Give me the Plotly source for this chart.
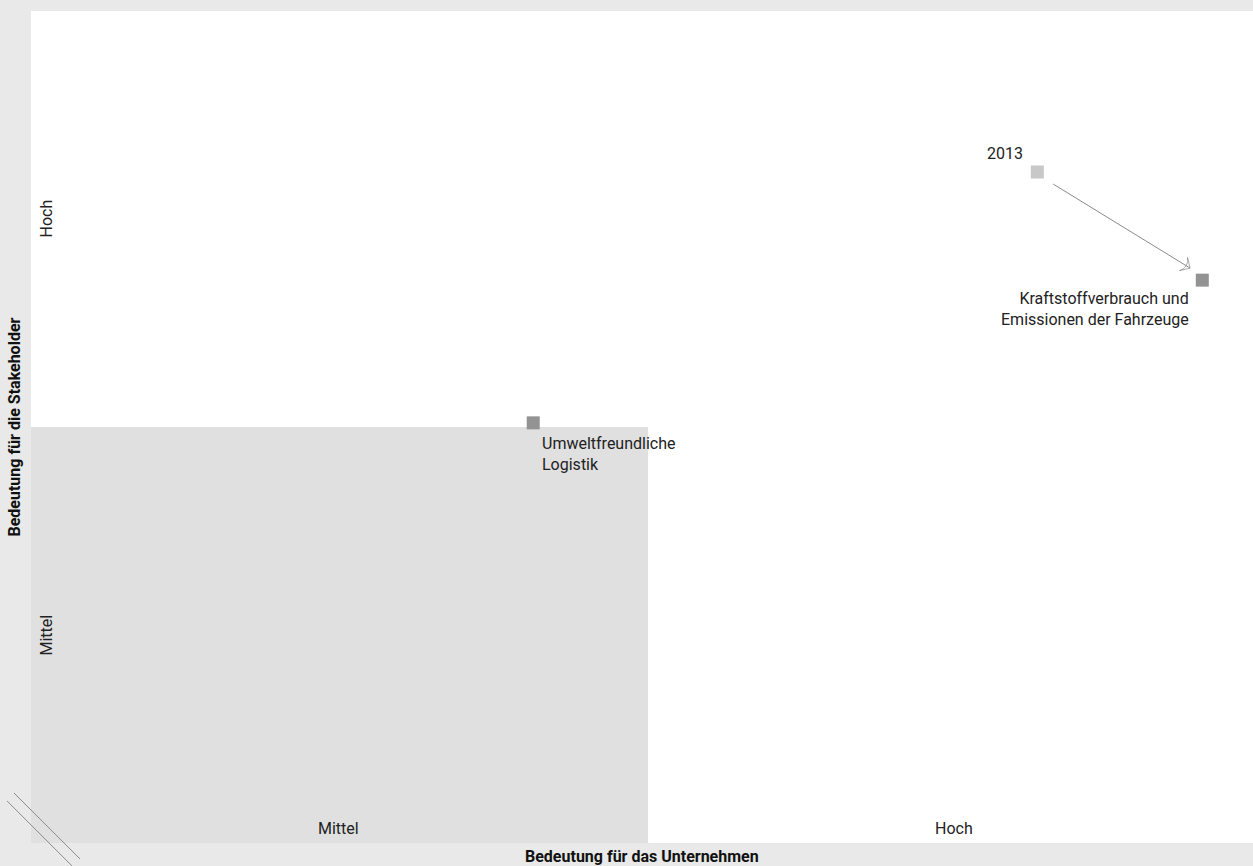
import plotly.graph_objects as go

# Data
topics = ["Umweltfreundliche<br>Logistik", "Kraftstoffverbrauch und<br>Emissionen der Fahrzeuge"]
x_company = [0.822, 1.917]
y_stake = [1.010, 1.353]
prev_label = "2013"
x_prev = [1.647]
y_prev = [1.613]
arrow_x = [1.673, 1.897]
arrow_y = [1.584, 1.382]
x_ticks = [0.503, 1.51]
x_ticklabels = ["Mittel", "Hoch"]
y_ticks = [0.5, 1.5]
y_ticklabels = ["Mittel", "Hoch"]
x_title = "Bedeutung für das Unternehmen"
y_title = "Bedeutung für die Stakeholder"

FONT = "Roboto, Liberation Sans, sans-serif"
BG = "#e8e9e8"
fig = go.Figure()

# grey quadrant
fig.add_shape(type="rect", x0=0, x1=1.01, y0=0, y1=1, xref="x", yref="y",
              fillcolor="#dfe0df", line_width=0, layer="below")

# arrow
fig.add_trace(go.Scatter(x=arrow_x, y=arrow_y, mode="lines+markers",
                         line=dict(color="#8a8a8a", width=1),
                         marker=dict(symbol=["circle", "arrow-wide-open"], size=[0, 11],
                                     angleref="previous", color="#8a8a8a",
                                     line=dict(color="#8a8a8a", width=1)),
                         hoverinfo="skip", showlegend=False))

fig.add_trace(go.Scatter(x=x_prev, y=y_prev, mode="markers",
                         marker=dict(symbol="square", size=13, color="#c8c8c8"),
                         showlegend=False))
fig.add_trace(go.Scatter(x=x_company, y=y_stake, mode="markers",
                         marker=dict(symbol="square", size=13, color="#939393"),
                         showlegend=False))

# labels
fig.add_annotation(x=x_company[0], y=y_stake[0], text=topics[0], showarrow=False,
                   xanchor="left", yanchor="top", align="left", xshift=7, yshift=-9,
                   font=dict(family=FONT, size=16, color="#222"))
fig.add_annotation(x=x_company[1], y=y_stake[1], text=topics[1], showarrow=False,
                   xanchor="right", yanchor="top", align="right", xshift=-11, yshift=-7,
                   font=dict(family=FONT, size=16, color="#222"))
fig.add_annotation(x=x_prev[0], y=y_prev[0], text=prev_label, showarrow=False,
                   xanchor="right", yanchor="bottom", xshift=-12, yshift=7,
                   font=dict(family=FONT, size=16, color="#222"))

for xv, lab in zip(x_ticks, x_ticklabels):
    fig.add_annotation(x=xv, y=0, text=lab, showarrow=False, yanchor="bottom", yshift=3,
                       font=dict(family=FONT, size=16, color="#222"))
for yv, lab in zip(y_ticks, y_ticklabels):
    fig.add_annotation(x=0, y=yv, text=lab, showarrow=False, xanchor="left", xshift=3,
                       textangle=-90, font=dict(family=FONT, size=16, color="#222"))

# axis titles
fig.add_annotation(x=0.5, y=0, xref="paper", yref="paper", text="<b>" + x_title + "</b>",
                   showarrow=False, yanchor="top", yshift=-2,
                   font=dict(family=FONT, size=16, color="#111"))
fig.add_annotation(x=0, y=0.5, xref="paper", yref="paper", text="<b>" + y_title + "</b>",
                   showarrow=False, xanchor="right", xshift=-6, textangle=-90,
                   font=dict(family=FONT, size=16, color="#111"))

# decorative double lines
fig.add_shape(type="line", xref="paper", yref="paper", x0=-0.0139, y0=0.0601, x1=0.0401, y1=-0.0192,
              line=dict(color="#8c8c8c", width=1))
fig.add_shape(type="line", xref="paper", yref="paper", x0=-0.0196, y0=0.0505, x1=0.0336, y1=-0.0276,
              line=dict(color="#8c8c8c", width=1))

fig.update_layout(
    width=1253, height=866,
    margin=dict(l=31, r=0, t=11, b=23),
    paper_bgcolor=BG, plot_bgcolor="#ffffff",
    xaxis=dict(range=[0, 2], showgrid=False, zeroline=False, showticklabels=False, ticks=""),
    yaxis=dict(range=[0, 2], showgrid=False, zeroline=False, showticklabels=False, ticks=""),
    showlegend=False,
)
fig.write_html("out.html", config={"displayModeBar": False},
               post_script="document.body.style.margin='0';document.body.style.overflow='hidden';"
                           "document.body.style.background='" + BG + "';")
